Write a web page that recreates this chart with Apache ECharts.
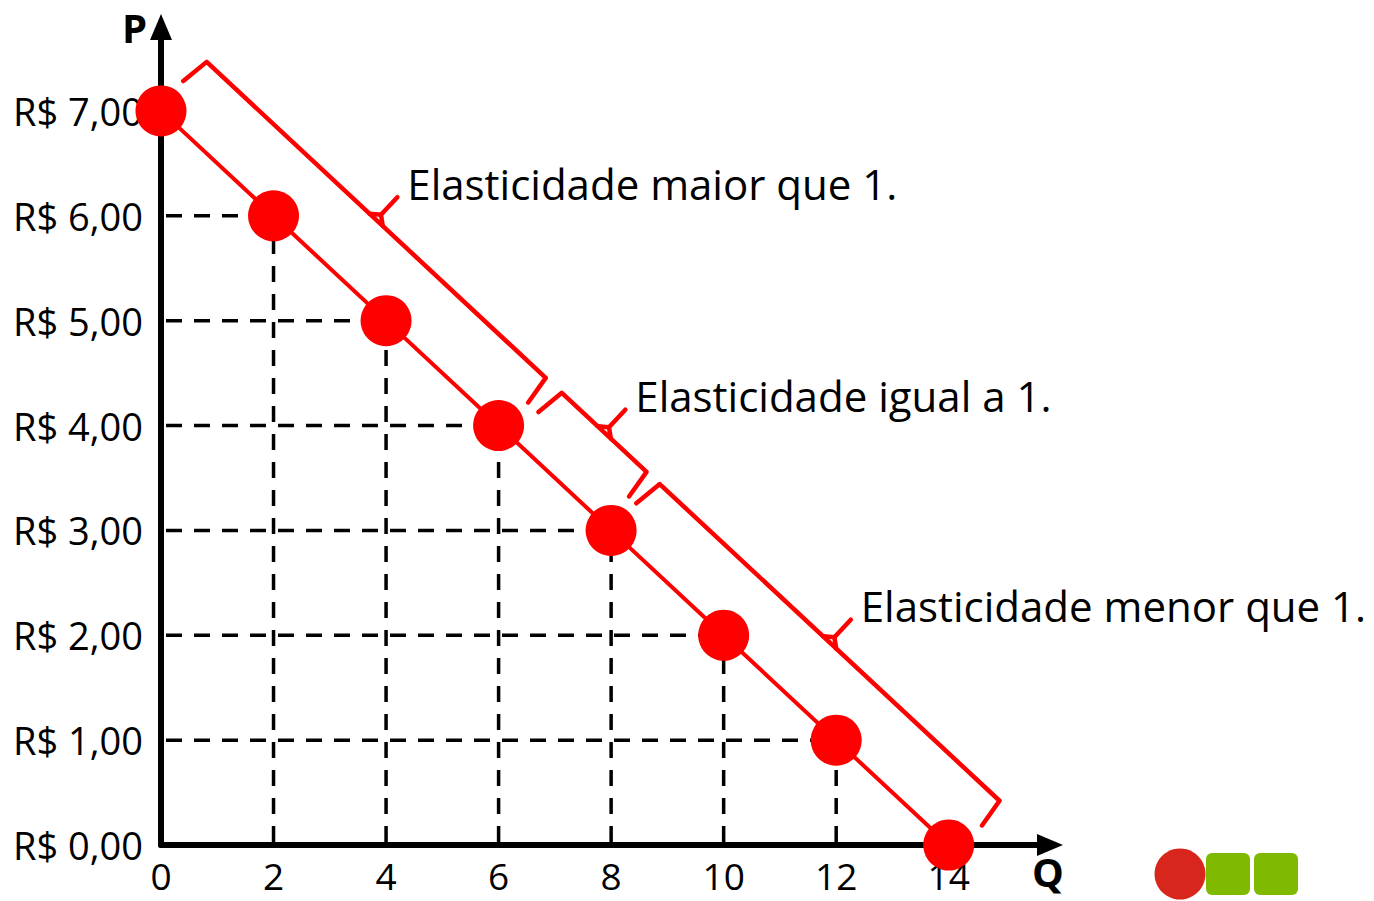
<!DOCTYPE html>
<html lang="pt-BR">
<head>
<meta charset="utf-8">
<title>Elasticidade-preço da demanda</title>
<script src="https://cdn.jsdelivr.net/npm/echarts@6/dist/echarts.min.js"></script>
<style>
  html, body { margin: 0; padding: 0; background: #ffffff; }
  #chart { width: 1374px; height: 901px; }
</style>
</head>
<body>
<div id="chart"></div>
<script>
// Demand schedule: quantity (Q) and price (P)
const quantities = [0, 2, 4, 6, 8, 10, 12, 14];
const prices = [7, 6, 5, 4, 3, 2, 1, 0];

// Axis tick labels
const xTickLabels = ['0', '2', '4', '6', '8', '10', '12', '14'];
const yTickLabels = ['R$ 0,00', 'R$ 1,00', 'R$ 2,00', 'R$ 3,00', 'R$ 4,00', 'R$ 5,00', 'R$ 6,00', 'R$ 7,00'];

// Stretches of the demand curve marked by braces (Q from, Q to)
const bracketRanges = [[0, 6], [6, 8], [8, 14]];
const bracketLabels = ['Elasticidade maior que 1.', 'Elasticidade igual a 1.', 'Elasticidade menor que 1.'];

// ---- drawing ----
const FONT = '"Open Sans", "Noto Sans", sans-serif';
const RED = '#ff0000';

const demandData = quantities.map((q, i) => [q, prices[i]]);
const priceAt = q => prices[quantities.indexOf(q)];
const bracketData = bracketRanges.map(r => [r[0], priceAt(r[0]), r[1], priceAt(r[1])]);

// brace geometry (pixels)
const BRACE_OFFSET = 67;   // distance from the curve
const BRACE_HOOK = 30;     // length of the end hooks
const BRACE_TIP = 31;      // length of the middle spike
const BRACE_PADS = [[0, -2], [24, 14], [4, -7]]; // trims at start / end along the curve

function renderGuides(params, api) {
  const q = api.value(0), p = api.value(1);
  const pt = api.coord([q, p]);
  const onX = api.coord([q, 0]);
  const onY = api.coord([0, p]);
  const style = { stroke: '#000', lineWidth: 3.5, lineDash: [16, 12], fill: null };
  const children = [];
  if (q !== 0) {
    children.push({ type: 'line', shape: { x1: onY[0] + 5, y1: pt[1], x2: pt[0], y2: pt[1] }, style });
  }
  if (p !== 0) {
    children.push({ type: 'line', shape: { x1: pt[0], y1: onX[1] - 3, x2: pt[0], y2: pt[1] }, style });
  }
  return { type: 'group', children };
}

function renderBrace(params, api) {
  const a = api.coord([api.value(0), api.value(1)]);
  const b = api.coord([api.value(2), api.value(3)]);
  let dx = b[0] - a[0], dy = b[1] - a[1];
  const len = Math.hypot(dx, dy);
  dx /= len; dy /= len;
  const nx = dy, ny = -dx; // normal pointing up-right, away from the curve
  const pad = BRACE_PADS[params.dataIndex];
  const s = [a[0] + dx * pad[0] + nx * BRACE_OFFSET, a[1] + dy * pad[0] + ny * BRACE_OFFSET];
  const e = [b[0] - dx * pad[1] + nx * BRACE_OFFSET, b[1] - dy * pad[1] + ny * BRACE_OFFSET];
  const sh = [s[0] - nx * BRACE_HOOK - dx * 4, s[1] - ny * BRACE_HOOK - dy * 4];
  const eh = [e[0] - nx * BRACE_HOOK + dx * 4, e[1] - ny * BRACE_HOOK + dy * 4];
  const m = [(s[0] + e[0]) / 2, (s[1] + e[1]) / 2];
  const knee = [m[0] + nx * 7, m[1] + ny * 7];
  const tip = [m[0] + nx * BRACE_TIP, m[1] + ny * BRACE_TIP];
  const stroke = { stroke: RED, lineWidth: 4.5, fill: null, lineJoin: 'round', lineCap: 'round' };
  return {
    type: 'group',
    children: [
      { type: 'polyline', shape: { points: [sh, s, e, eh] }, style: stroke },
      { type: 'polyline', shape: { points: [[m[0] - dx * 9, m[1] - dy * 9], knee, tip] }, style: stroke },
      { type: 'polyline', shape: { points: [[m[0] + dx * 9, m[1] + dy * 9], knee] }, style: stroke },
      {
        type: 'text',
        style: {
          text: bracketLabels[params.dataIndex],
          x: tip[0] + 10,
          y: tip[1] - 14,
          fill: '#000',
          font: '42px ' + FONT,
          align: 'left',
          verticalAlign: 'middle'
        }
      }
    ]
  };
}

const chart = echarts.init(document.getElementById('chart'), null, { renderer: 'svg' });

chart.setOption({
  animation: false,
  backgroundColor: '#ffffff',
  grid: { left: 161, right: 324, top: 27, bottom: 56, containLabel: false },
  xAxis: {
    type: 'value',
    min: 0,
    max: 15.8,
    interval: 2,
    name: 'Q',
    nameLocation: 'end',
    nameGap: -2,
    nameTextStyle: {
      fontFamily: FONT, fontSize: 40, fontWeight: 'bold', color: '#000',
      align: 'center', verticalAlign: 'top', lineHeight: 38, padding: [7, 0, 0, 0]
    },
    axisLine: {
      show: true,
      symbol: ['none', 'triangle'],
      symbolSize: [22, 26],
      lineStyle: { color: '#000', width: 6 }
    },
    axisTick: { show: false },
    splitLine: { show: false },
    axisLabel: {
      showMaxLabel: false,
      margin: 12,
      fontFamily: FONT, fontSize: 37, color: '#000',
      formatter: v => {
        const i = quantities.indexOf(v);
        return i >= 0 ? xTickLabels[i] : '';
      }
    }
  },
  yAxis: {
    type: 'value',
    min: 0,
    max: 7.8,
    interval: 1,
    name: 'P',
    nameLocation: 'end',
    nameGap: 0,
    nameTextStyle: {
      fontFamily: FONT, fontSize: 40, fontWeight: 'bold', color: '#000',
      align: 'right', verticalAlign: 'middle', lineHeight: 38, padding: [0, 14, 0, 0]
    },
    axisLine: {
      show: true,
      symbol: ['none', 'triangle'],
      symbolSize: [22, 26],
      lineStyle: { color: '#000', width: 6 }
    },
    axisTick: { show: false },
    splitLine: { show: false },
    axisLabel: {
      showMaxLabel: false,
      margin: 18,
      fontFamily: FONT, fontSize: 38, color: '#000',
      formatter: v => {
        const i = Math.round(v);
        return (i === v && yTickLabels[i]) ? yTickLabels[i] : '';
      }
    }
  },
  series: [
    {
      name: 'guias',
      type: 'custom',
      z: 1,
      silent: true,
      renderItem: renderGuides,
      data: demandData
    },
    {
      name: 'chaves',
      type: 'custom',
      z: 3,
      silent: true,
      renderItem: renderBrace,
      data: bracketData
    },
    {
      name: 'demanda',
      type: 'line',
      z: 4,
      data: demandData,
      symbol: 'circle',
      symbolSize: 51,
      showSymbol: true,
      itemStyle: { color: RED, borderWidth: 0 },
      lineStyle: { color: RED, width: 4 },
      emphasis: { disabled: true },
      silent: true
    }
  ],
  graphic: [
    { type: 'circle', shape: { cx: 1180, cy: 874, r: 25.5 }, style: { fill: '#d9261c' } },
    { type: 'rect', shape: { x: 1206, y: 853, width: 44, height: 42, r: 6 }, style: { fill: '#7fba00' } },
    { type: 'rect', shape: { x: 1254, y: 853, width: 44, height: 42, r: 6 }, style: { fill: '#7fba00' } }
  ]
});
</script>
</body>
</html>
